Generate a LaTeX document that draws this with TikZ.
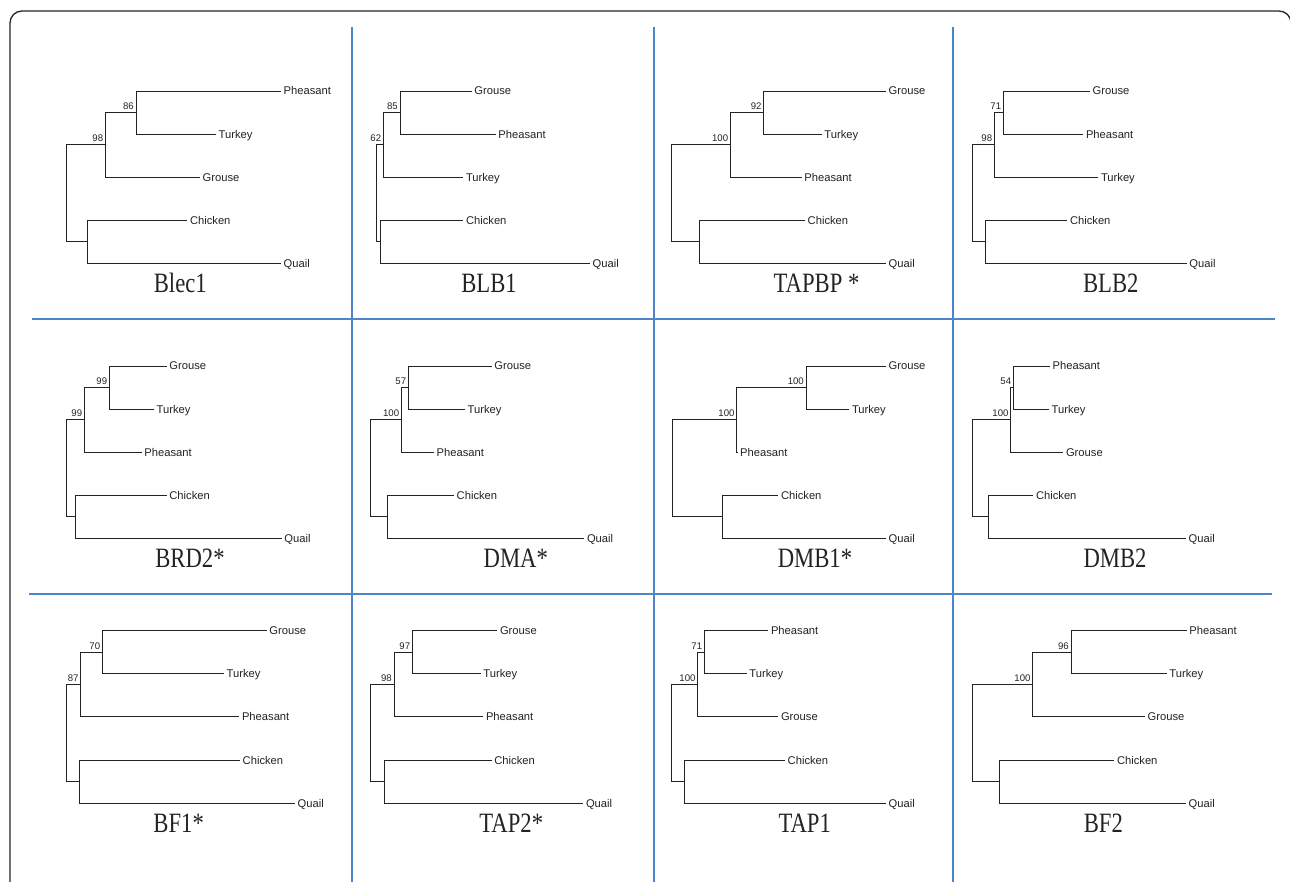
\documentclass[tikz,border=0pt]{standalone}
\usepackage{fontspec}
\usepackage{graphicx}
\newfontfamily\lsans{Liberation Sans}
\newfontfamily\lserif{Liberation Serif}
\definecolor{sepblue}{RGB}{74,134,200}
\definecolor{ink}{RGB}{35,35,35}
\def\tparseI#1/#2/#3/#4\relax{\def\tRx{#1}\def\tAx{#2}\def\tBx{#3}\def\tCx{#4}}
\def\tparseL#1/#2/#3/#4/#5\relax{\def\tEa{#1}\def\tEb{#2}\def\tEc{#3}\def\tEd{#4}\def\tEe{#5}}
\def\tparseN#1/#2/#3\relax{\def\tNa{#1}\def\tNb{#2}\def\tNc{#3}}
\def\tparseB#1/#2\relax{\def\tBa{#1}\def\tBb{#2}}
% #1 id, #2 first leaf y, #3 xRoot/xA/xB/xC, #4 leaf ends, #5 three upper names, #6 boot A/B, #7 title x, #8 title
\newcommand\mytree[8]{%
  \tparseI#3\relax\tparseL#4\relax\tparseN#5\relax\tparseB#6\relax
  \coordinate (#1B) at (\tBx,{#2+21.55});
  \coordinate (#1A) at (\tAx,{#2+53.875});
  \coordinate (#1C) at (\tCx,{#2+150.85});
  \coordinate (#1R) at (\tRx,{#2+102.36});
  \coordinate (#1e1) at (\tEa,{#2});
  \coordinate (#1e2) at (\tEb,{#2+43.1});
  \coordinate (#1e3) at (\tEc,{#2+86.2});
  \coordinate (#1e4) at (\tEd,{#2+129.3});
  \coordinate (#1e5) at (\tEe,{#2+172.4});
  \draw[branch] (#1R) |- (#1A);
  \draw[branch] (#1R) |- (#1C);
  \draw[branch] (#1A) |- (#1B);
  \draw[branch] (#1A) |- (#1e3);
  \draw[branch] (#1B) |- (#1e1);
  \draw[branch] (#1B) |- (#1e2);
  \draw[branch] (#1C) |- (#1e4);
  \draw[branch] (#1C) |- (#1e5);
  \node[leaf] (#1n1) at (#1e1) {\tNa};
  \node[leaf] (#1n2) at (#1e2) {\tNb};
  \node[leaf] (#1n3) at (#1e3) {\tNc};
  \node[leaf] (#1n4) at (#1e4) {Chicken};
  \node[leaf] (#1n5) at (#1e5) {Quail};
  \node[boot] (#1bA) at (#1A) {\tBa};
  \node[boot] (#1bB) at (#1B) {\tBb};
  \node[paneltitle] (#1t) at (#7,{#2+201.5}) {\scalebox{0.81}[1]{#8}};
}
\begin{document}
\begin{tikzpicture}[x=1pt,y=-1pt,
  branch/.style={draw=ink,line width=0.9pt},
  leaf/.style={anchor=base west,inner sep=0pt,xshift=2.5pt,yshift=-4pt,text=ink,font=\lsans\fontsize{11.2}{12}\selectfont},
  boot/.style={anchor=base east,inner sep=0pt,xshift=-2pt,yshift=3pt,text=ink,font=\lsans\fontsize{9.6}{10}\selectfont},
  paneltitle/.style={anchor=base,inner sep=0pt,text=ink,font=\lserif\fontsize{28}{30}\selectfont},
  sep/.style={draw=sepblue,line width=1.3pt},
  frame/.style={draw=black!85,line width=1.3pt}]
\useasboundingbox (0,0) rectangle (1290,882);
\fill[white] (0,0) rectangle (1290,882);
% outer frame
\draw[frame] (10,882) -- (10,23) arc[start angle=180,end angle=270,radius=12] -- (1279,11) arc[start angle=270,end angle=360,radius=12];
% separators
\draw[sep] (352,27) -- (352,882);
\draw[sep] (654,27) -- (654,882);
\draw[sep] (953,27) -- (953,882);
\draw[sep] (32,319) -- (1275,319);
\draw[sep] (29,594) -- (1272,594);
% row 1
\mytree{a}{91}{66.7/105.3/136/87.3}{281/216/200/187.3/281}{Pheasant/Turkey/Grouse}{98/86}{180.3}{Blec1}
\mytree{b}{91}{376/383.3/400/380.7}{471.7/495.7/463.3/463.3/590}{Grouse/Pheasant/Turkey}{62/85}{489}{BLB1}
\mytree{c}{91}{671.7/730.3/763.7/699.3}{886/821.7/801.7/805/886}{Grouse/Turkey/Pheasant}{100/92}{816.5}{TAPBP *}
\mytree{d}{91}{972.3/994.3/1003.3/985.3}{1090/1083.3/1098.3/1067.3/1186.7}{Grouse/Pheasant/Turkey}{98/71}{1110.8}{BLB2}
% row 2
\mytree{e}{366}{66.7/84.3/109.3/75}{166.7/154/141.7/166.7/281.7}{Grouse/Turkey/Pheasant}{99/99}{190}{BRD2*}
\mytree{f}{366}{370/401.3/408.3/387.3}{491.7/465/434/454/584.3}{Grouse/Turkey/Pheasant}{100/57}{515.8}{DMA*}
\mytree{g}{366}{672/736.7/806/722.7}{886/849.3/737.5/778.3/886}{Grouse/Turkey/Pheasant}{100/100}{815}{DMB1*}
\mytree{h}{366}{972.3/1010.7/1013.3/988.7}{1050/1049/1063.3/1033.3/1186}{Pheasant/Turkey/Grouse}{100/54}{1115}{DMB2}
% row 3
\mytree{i}{630.7}{66.7/80.7/102.3/79}{266.7/224/239.3/240/295}{Grouse/Turkey/Pheasant}{87/70}{178.7}{BF1*}
\mytree{j}{630.7}{370/394/412.3/384.3}{497.3/480.7/483.3/491.7/583.3}{Grouse/Turkey/Pheasant}{98/97}{511.3}{TAP2*}
\mytree{k}{630.7}{671.7/697.7/704.3/684.3}{768.3/746.7/778.3/785/886}{Pheasant/Turkey/Grouse}{100/71}{804.7}{TAP1}
\mytree{l}{630.7}{972.3/1032.7/1071/999}{1186.7/1166.7/1145/1114.3/1186}{Pheasant/Turkey/Grouse}{100/96}{1103.3}{BF2}
\end{tikzpicture}
\end{document}
